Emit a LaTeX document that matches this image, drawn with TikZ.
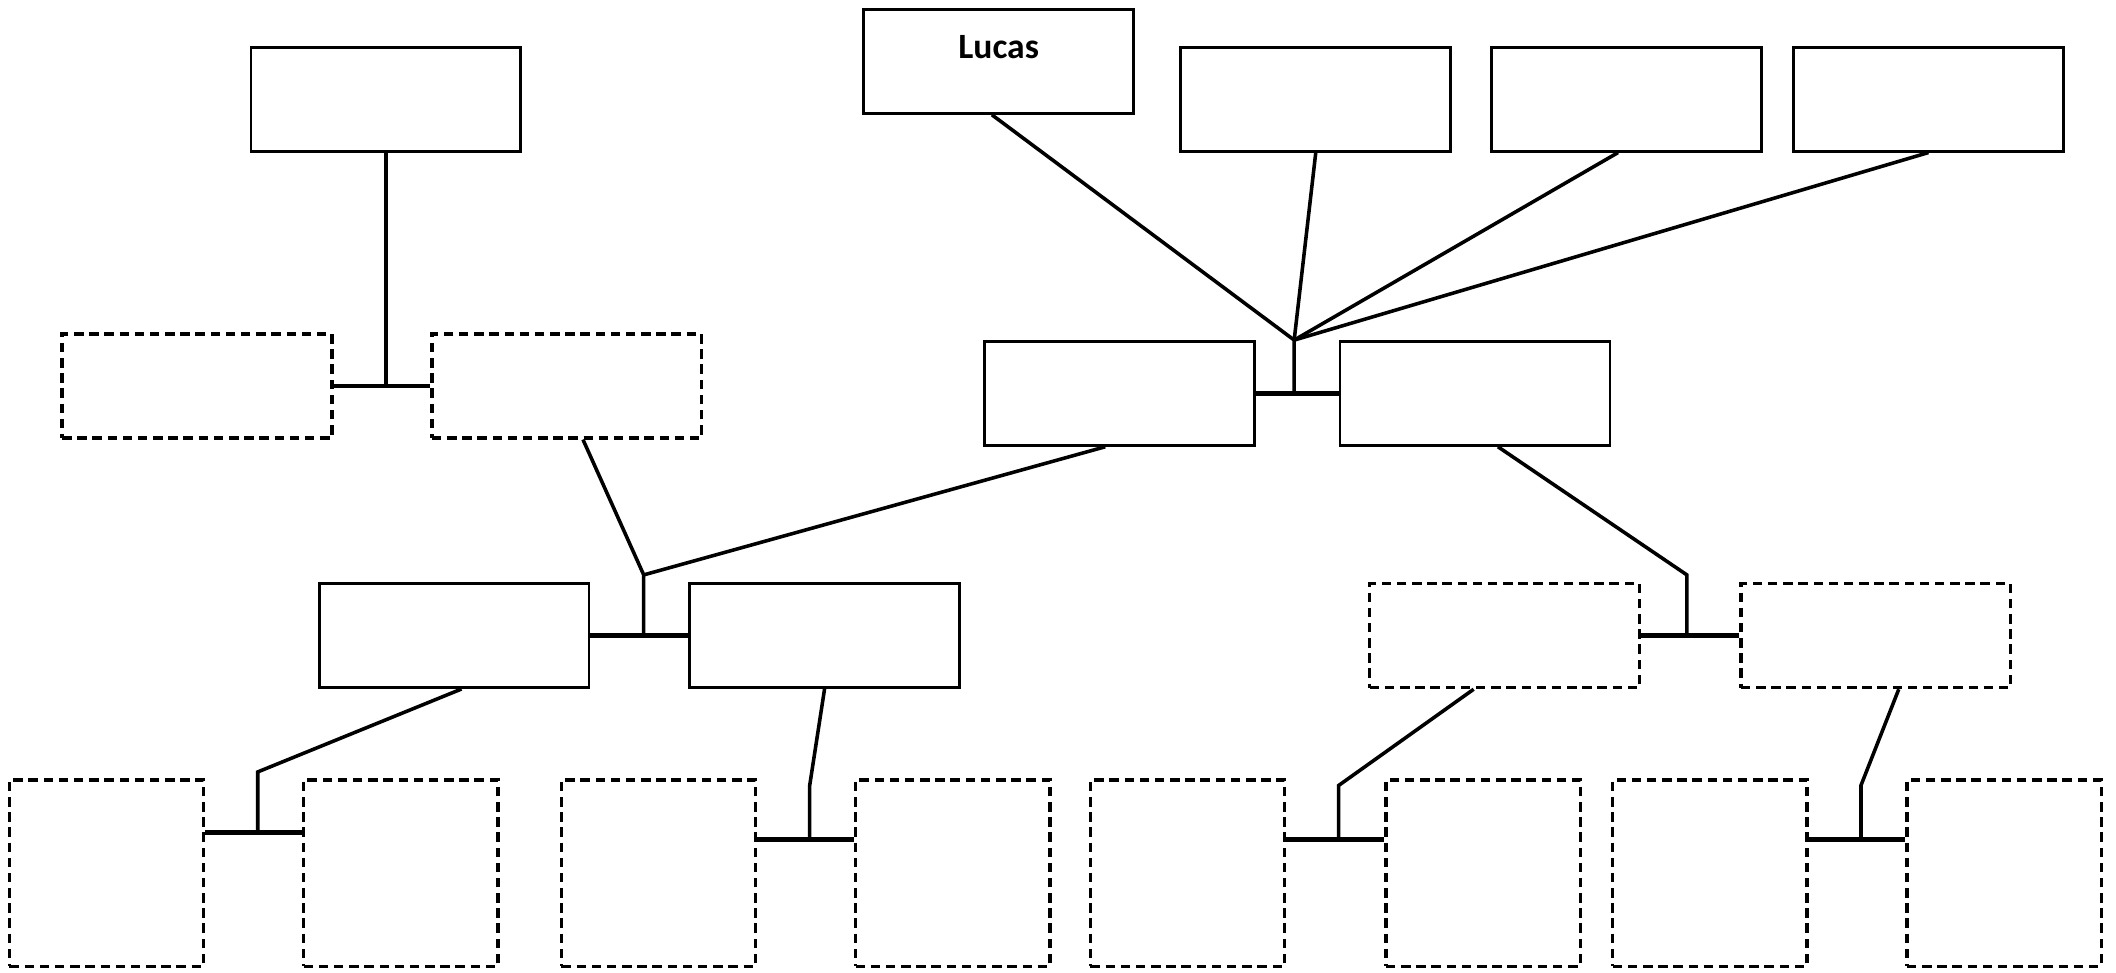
\documentclass[tikz,border=0pt]{standalone}
\usepackage{fontspec}
\newfontfamily\namefont{Carlito}

\begin{document}
\begin{tikzpicture}[
    person/.style={draw, line width=0.6pt, minimum width=2cm, minimum height=0.77cm, inner sep=0pt},
    unknown/.style={person, line width=0.7pt, dash pattern=on 2pt off 1.2pt},
    kid/.style={unknown, minimum width=1.44cm, minimum height=1.38cm},
    link/.style={line width=0.75pt},
    couple/.style={line width=0.95pt}]
\useasboundingbox (0,0) rectangle (15.68,-7.21);

% top row
\node[person] (grand) at (2.86,-0.735) {};
\node[person, text height=0.365cm, text depth=0.405cm, font={\namefont\bfseries\fontsize{7.5}{9}\selectfont}] (lucas) at (7.40,-0.455) {Lucas};
\node[person] (sib1) at (9.75,-0.735) {};
\node[person] (sib2) at (12.05,-0.735) {};
\node[person] (sib3) at (14.29,-0.735) {};

% second row
\node[unknown] (gg1) at (1.46,-2.86) {};
\node[unknown] (gg2) at (4.20,-2.86) {};
\node[person] (mum) at (8.295,-2.915) {};
\node[person] (dad) at (10.93,-2.915) {};

% third row
\node[person] (gm1) at (3.365,-4.71) {};
\node[person] (gm2) at (6.11,-4.71) {};
\node[unknown] (gd1) at (11.15,-4.71) {};
\node[unknown] (gd2) at (13.90,-4.71) {};

% bottom row
\node[kid] (k1) at (0.79,-6.47) {};
\node[kid] (k2) at (2.97,-6.47) {};
\node[kid] (k3) at (4.88,-6.47) {};
\node[kid] (k4) at (7.06,-6.47) {};
\node[kid] (k5) at (8.80,-6.47) {};
\node[kid] (k6) at (10.99,-6.47) {};
\node[kid] (k7) at (12.67,-6.47) {};
\node[kid] (k8) at (14.85,-6.47) {};

% junctions
\coordinate (jkids) at (9.59,-2.52);
\coordinate (jmum) at (4.77,-4.26);
\coordinate (jdad) at (12.50,-4.26);
\coordinate (jk12) at (1.91,-5.72);
\coordinate (jk34) at (6.00,-5.82);
\coordinate (jk56) at (9.92,-5.82);
\coordinate (jk78) at (13.79,-5.82);

% couples
\draw[couple] (gg1.east) -- (gg2.west);
\draw[couple] (mum.east) -- (dad.west);
\draw[couple] (gm1.east) -- (gm2.west);
\draw[couple] (gd1.east) -- (gd2.west);
\draw[couple] ([yshift=0.30cm]k1.east) -- ([yshift=0.30cm]k2.west);
\draw[couple] ([yshift=0.25cm]k3.east) -- ([yshift=0.25cm]k4.west);
\draw[couple] ([yshift=0.25cm]k5.east) -- ([yshift=0.25cm]k6.west);
\draw[couple] ([yshift=0.25cm]k7.east) -- ([yshift=0.25cm]k8.west);

% descent
\draw[link] (grand.south) -- (grand.south |- gg1.east);
\draw[link] ([xshift=-0.05cm]lucas.south) -- (jkids) -- (jkids |- mum.east);
\draw[link] (sib1.south) -- (jkids);
\draw[link] ([xshift=-0.06cm]sib2.south) -- (jkids);
\draw[link] (sib3.south) -- (jkids);
\draw[link] ([xshift=0.12cm]gg2.south) -- (jmum) -- (jmum |- gm1.east);
\draw[link] ([xshift=-0.105cm]mum.south) -- (jmum);
\draw[link] ([xshift=0.17cm]dad.south) -- (jdad) -- (jdad |- gd1.east);
\draw[link] ([xshift=0.055cm]gm1.south) -- (jk12) -- ([yshift=0.30cm]jk12 |- k1.east);
\draw[link] (gm2.south) -- (jk34) -- ([yshift=0.25cm]jk34 |- k3.east);
\draw[link] ([xshift=-0.23cm]gd1.south) -- (jk56) -- ([yshift=0.25cm]jk56 |- k5.east);
\draw[link] ([xshift=0.17cm]gd2.south) -- (jk78) -- ([yshift=0.25cm]jk78 |- k7.east);
\end{tikzpicture}
\end{document}
